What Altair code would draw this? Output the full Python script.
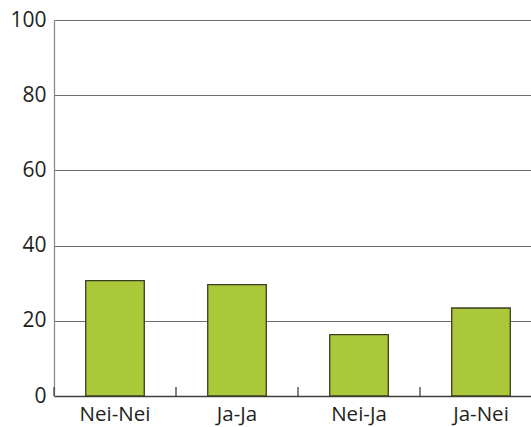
import altair as alt
import pandas as pd

# Answer combinations and their shares (percent)
categories = ["Nei-Nei", "Ja-Ja", "Nei-Ja", "Ja-Nei"]
shares = [30.7, 29.6, 16.3, 23.4]

df = pd.DataFrame({"kategori": categories, "andel": shares})

FONT = "Open Sans"
TEXT = "#231f20"
PLOT_W = 477
PLOT_H = 376
STEP = 122

x_scale = alt.Scale(domain=categories, range=[0, 4 * STEP], paddingInner=0.52, paddingOuter=0.26)
y_scale = alt.Scale(domain=[0, 100], nice=False)

x_axis = alt.Axis(
    title=None, labelAngle=0, ticks=False, domainColor="#3f3f3f",
    domainWidth=1.6, labelFont=FONT, labelFontSize=20.5, labelColor=TEXT,
    labelPadding=8, grid=False,
)

bars = alt.Chart(df).mark_bar(
    color="#abc83a", stroke="#3b3d24", strokeWidth=1.3
).encode(
    x=alt.X("kategori:N", scale=x_scale, sort=categories, axis=x_axis),
    y=alt.Y(
        "andel:Q",
        scale=y_scale,
        axis=alt.Axis(
            title=None, values=[0, 20, 40, 60, 80, 100], ticks=False,
            domainColor="#8a8a8a", domainWidth=1.3, gridColor="#6f6f6f",
            gridWidth=1.2, gridOpacity=1, labelFont=FONT, labelFontSize=21,
            labelColor=TEXT, labelPadding=8,
        ),
    ),
)

# Small upward ticks at the left edge of each category band, on the baseline
boundary_ticks = alt.Chart(df).mark_rule(
    color="#3f3f3f", strokeWidth=1.3, xOffset=-STEP / 2
).encode(
    x=alt.X("kategori:N", scale=x_scale, sort=categories, axis=x_axis),
    y=alt.value(PLOT_H - 9),
    y2=alt.value(PLOT_H),
)

chart = alt.layer(bars, boundary_ticks).properties(
    width=PLOT_W,
    height=PLOT_H,
    padding={"left": 54, "top": 20, "right": 0, "bottom": 31},
    autosize=alt.AutoSizeParams(type="none"),
).configure_view(stroke=None).configure(background="white")

chart.save("out.html", embed_options={"renderer": "svg", "actions": False})
